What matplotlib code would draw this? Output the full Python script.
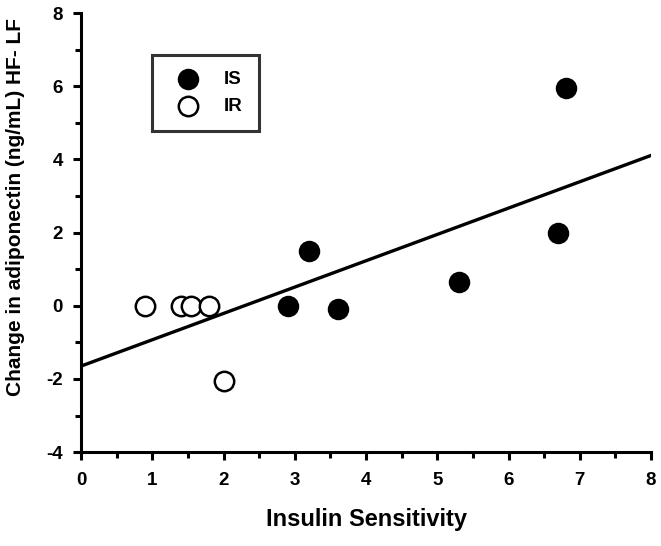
import matplotlib
matplotlib.use("Agg")
import matplotlib.pyplot as plt
import numpy as np
from matplotlib.ticker import MultipleLocator

plt.rcParams['font.family'] = ['Liberation Sans', 'DejaVu Sans']
plt.rcParams['font.weight'] = 'bold'
plt.rcParams['axes.unicode_minus'] = False

# Data
is_x = [2.9, 3.2, 3.6, 5.3, 6.7, 6.8]
is_y = [0.0, 1.5, -0.1, 0.65, 2.0, 5.95]
ir_x = [0.9, 1.4, 1.55, 1.8, 2.0]
ir_y = [0.0, 0.0, 0.0, 0.0, -2.05]
fit_intercept = -1.65
fit_slope = 0.72
x_ticks = [0, 1, 2, 3, 4, 5, 6, 7, 8]
y_ticks = [-4, -2, 0, 2, 4, 6, 8]

fig = plt.figure(figsize=(6.61, 5.46), dpi=100)
ax = fig.add_axes([0.1225, 0.172, 0.8625, 0.804])

lx = np.array([0, 8.05])
ax.plot(lx, fit_intercept + fit_slope * lx, color='black', lw=2.4, zorder=2)
ax.scatter(is_x, is_y, s=195, facecolor='black', edgecolor='black', lw=1.5, zorder=3, label='IS')
ax.scatter(ir_x, ir_y, s=195, facecolor='white', edgecolor='black', lw=1.8, zorder=3, label='IR')

ax.set_xlim(0, 8)
ax.set_ylim(-4, 8)
ax.set_xticks(x_ticks)
ax.set_yticks(y_ticks)
ax.xaxis.set_minor_locator(MultipleLocator(0.5))
ax.yaxis.set_minor_locator(MultipleLocator(1))
for s in ['top', 'right']:
    ax.spines[s].set_visible(False)
for s in ['left', 'bottom']:
    ax.spines[s].set_linewidth(2.2)
ax.tick_params(which='major', length=6, width=2.2, labelsize=13.5)
ax.tick_params(axis='y', which='major', pad=7)
ax.tick_params(axis='x', which='major', pad=8)
ax.tick_params(which='minor', length=4, width=2.2)
ax.set_xlabel('Insulin Sensitivity', fontsize=17, fontweight='bold', labelpad=14)
ax.set_ylabel('Change in adiponectin (ng/mL) HF- LF', fontsize=15, fontweight='bold')
ax.yaxis.set_label_coords(-0.098, 0.558)

leg = ax.legend(loc='upper left', bbox_to_anchor=(0.124, 0.905), frameon=True, fancybox=False,
                edgecolor='black', fontsize=13.5, handletextpad=0.8, borderpad=0.85,
                labelspacing=0.55, borderaxespad=0, handlelength=2.2)
leg.get_frame().set_linewidth(2.2)
plt.setp(leg.get_texts(), fontweight='bold')

fig.savefig('out.png', dpi=100)
